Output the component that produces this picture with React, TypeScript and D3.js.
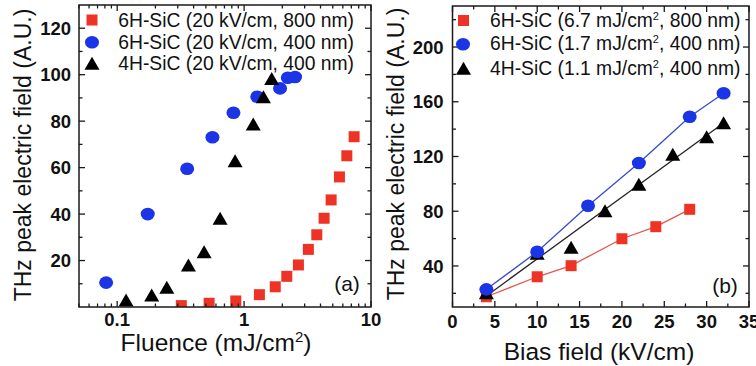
import React from "react";
import * as d3 from "d3";

// ---- Panel (a): THz field vs. pump fluence (log x) ----
const fluence800_6H = [0.32, 0.53, 0.86, 1.32, 1.76, 2.17, 2.68, 3.21, 3.74, 4.27, 4.85, 5.64, 6.45, 7.36];
const field800_6H = [0.6, 1.6, 2.6, 5.3, 8.7, 13.2, 18.1, 24.8, 31.1, 38.2, 46.1, 56.0, 65.1, 73.3];
const fluence400_6H = [0.0818, 0.174, 0.356, 0.563, 0.824, 1.27, 1.92, 2.21, 2.52];
const field400_6H = [10.5, 40.0, 59.5, 73.1, 83.6, 90.5, 94.1, 98.7, 99.0];
const fluence400_4H = [0.1175, 0.187, 0.246, 0.364, 0.484, 0.647, 0.849, 1.18, 1.42, 1.65];
const field400_4H = [3.0, 5.2, 8.5, 18.1, 23.8, 38.2, 63.0, 78.8, 90.5, 98.4];

const legendA = ["6H-SiC (20 kV/cm, 800 nm)", "6H-SiC (20 kV/cm, 400 nm)", "4H-SiC (20 kV/cm, 400 nm)"];
const xTicksA = [0.1, 1, 10];
const yTicksA = [20, 40, 60, 80, 100, 120];

// ---- Panel (b): THz field vs. bias field ----
const bias800_6H = [4, 10, 14, 20, 24, 28];
const fieldB800_6H = [17.5, 32.1, 40.2, 59.9, 68.7, 81.4];
const bias400_6H = [4, 10, 16, 22, 28, 32];
const fieldB400_6H = [22.9, 50.4, 84.0, 115.3, 149.1, 166.2];
const bias400_4H = [4, 10, 14, 18, 22, 26, 30, 32];
const fieldB400_4H = [20.5, 49.3, 53.6, 80.4, 99.7, 121.6, 134.5, 144.7];

const legendB = [
  ["6H-SiC (6.7 mJ/cm", ", 800 nm)"],
  ["6H-SiC (1.7 mJ/cm", ", 400 nm)"],
  ["4H-SiC (1.1 mJ/cm", ", 400 nm)"],
];
const xTicksB = [0, 5, 10, 15, 20, 25, 30, 35];
const yTicksB = [40, 80, 120, 160, 200];

const RED = "#ee3326";
const BLUE = "#1b34e6";
const BLACK = "#000";
const FRAME = "#1a1a1a";
const FONT = "'Liberation Sans', Arial, Helvetica, sans-serif";

type Pt = [number, number];
const zip = (xs: number[], ys: number[]): Pt[] => xs.map((x, i) => [x, ys[i]]);

function Square({ x, y, s = 11 }: { x: number; y: number; s?: number }) {
  return <rect x={x - s / 2} y={y - s / 2} width={s} height={s} fill={RED} />;
}
function Dot({ x, y }: { x: number; y: number }) {
  return <ellipse cx={x} cy={y} rx={7} ry={6.3} fill={BLUE} />;
}
function Tri({ x, y }: { x: number; y: number }) {
  const w = 15, h = 13;
  return <path d={`M${x},${y - h / 2}L${x + w / 2},${y + h / 2}L${x - w / 2},${y + h / 2}Z`} fill={BLACK} />;
}

function Frame({ l, r, t, b }: { l: number; r: number; t: number; b: number }) {
  return <rect x={l} y={t} width={r - l} height={b - t} fill="none" stroke={FRAME} strokeWidth={1.5} />;
}

export default function App() {
  // Panel (a) geometry
  const A = { l: 79, r: 371, t: 5, b: 307 };
  const xA = d3.scaleLog().domain([0.05, 10]).range([A.l, A.r]);
  const yA = d3.scaleLinear().domain([0, 130]).range([A.b, A.t]);

  // Panel (b) geometry
  const B = { l: 452.5, r: 749, t: 6, b: 307 };
  const xB = d3.scaleLinear().domain([0, 35]).range([B.l, B.r]);
  const yB = d3.scaleLinear().domain([10, 230]).range([B.b, B.t]);

  const minorLogA: number[] = [];
  [0.01, 0.1, 1].forEach((dec) => {
    for (let k = 2; k <= 9; k++) {
      const v = dec * k;
      if (v >= 0.05 && v <= 10) minorLogA.push(v);
    }
  });
  const yMinorA = d3.range(10, 130, 20);
  const xMinorB = d3.range(2.5, 35, 5);
  const yMinorB = d3.range(20, 230, 40);

  const MAJ = 6, MIN = 3.5;

  // Black series in (b): least-squares fit line
  const mx = d3.mean(bias400_4H)!;
  const my = d3.mean(fieldB400_4H)!;
  const sxy = d3.sum(bias400_4H, (x, i) => (x - mx) * (fieldB400_4H[i] - my));
  const sxx = d3.sum(bias400_4H, (x) => (x - mx) ** 2);
  const slope = sxy / sxx;
  const icpt = my - slope * mx;
  const fitX = [d3.min(bias400_4H)!, d3.max(bias400_4H)!];
  const fitPts: Pt[] = fitX.map((x) => [x, icpt + slope * x]);

  const lineB = d3.line<Pt>().x((d) => xB(d[0])).y((d) => yB(d[1]));

  const tickLines = (
    vals: number[],
    pos: (v: number) => number,
    len: number,
    orient: "x" | "y",
    box: { l: number; r: number; t: number; b: number },
    keyp: string
  ) =>
    vals.map((v, i) => {
      const p = pos(v);
      if (orient === "x") {
        return (
          <g key={`${keyp}${i}`}>
            <line x1={p} x2={p} y1={box.b} y2={box.b - len} stroke={FRAME} strokeWidth={1.3} />
            <line x1={p} x2={p} y1={box.t} y2={box.t + len} stroke={FRAME} strokeWidth={1.3} />
          </g>
        );
      }
      return (
        <g key={`${keyp}${i}`}>
          <line y1={p} y2={p} x1={box.l} x2={box.l + len} stroke={FRAME} strokeWidth={1.3} />
          <line y1={p} y2={p} x1={box.r} x2={box.r - len} stroke={FRAME} strokeWidth={1.3} />
        </g>
      );
    });

  const tickFont = { fontFamily: FONT, fontWeight: 700, fontSize: 18.5, fill: "#111" } as const;
  const titleFont = { fontFamily: FONT, fontSize: 23, fill: "#111" } as const;
  const legFont = { fontFamily: FONT, fontSize: 19.3, fill: "#111" } as const;

  return (
    <svg width={756} height={366} style={{ position: "absolute", left: 0, top: 0, background: "#fff" }}>
      <defs>
        <clipPath id="clipA">
          <rect x={A.l} y={A.t} width={A.r - A.l} height={A.b - A.t} />
        </clipPath>
        <clipPath id="clipB">
          <rect x={B.l} y={B.t} width={B.r - B.l} height={B.b - B.t} />
        </clipPath>
      </defs>

      {/* ===== Panel (a) ===== */}
      <g clipPath="url(#clipA)">
        {zip(fluence800_6H, field800_6H).map(([x, y], i) => (
          <Square key={`ar${i}`} x={xA(x)} y={yA(y)} />
        ))}
        {zip(fluence400_6H, field400_6H).map(([x, y], i) => (
          <Dot key={`ab${i}`} x={xA(x)} y={yA(y)} />
        ))}
        {zip(fluence400_4H, field400_4H).map(([x, y], i) => (
          <Tri key={`at${i}`} x={xA(x)} y={yA(y)} />
        ))}
      </g>
      <Frame {...A} />
      {tickLines(xTicksA, xA, MAJ, "x", A, "axM")}
      {tickLines(minorLogA, xA, MIN, "x", A, "axm")}
      {tickLines(yTicksA, yA, MAJ, "y", A, "ayM")}
      {tickLines(yMinorA, yA, MIN, "y", A, "aym")}
      {xTicksA.map((v) => (
        <text key={`axl${v}`} x={xA(v)} y={326} textAnchor="middle" {...tickFont}>
          {v}
        </text>
      ))}
      {yTicksA.map((v) => (
        <text key={`ayl${v}`} x={A.l - 8} y={yA(v)} dy="0.36em" textAnchor="end" {...tickFont}>
          {v}
        </text>
      ))}
      <text x={216} y={351} textAnchor="middle" {...titleFont} fontSize={24.5}>
        Fluence (mJ/cm<tspan dy={-9} fontSize={15}>2</tspan>
        <tspan dy={9}>)</tspan>
      </text>
      <text transform="translate(31,155) rotate(-90)" textAnchor="middle" {...titleFont}>
        THz peak electric field (A.U.)
      </text>
      <text x={347} y={283} dy="0.36em" textAnchor="middle" {...titleFont} fontSize={21}>
        (a)
      </text>
      {/* legend (a) */}
      <Square x={92} y={20} />
      <Dot x={92} y={42.3} />
      <Tri x={92} y={63.3} />
      {legendA.map((t, i) => (
        <text key={`la${i}`} x={118.3} y={[20, 42.3, 63.3][i]} dy="0.36em" {...legFont}>
          {t}
        </text>
      ))}

      {/* ===== Panel (b) ===== */}
      <g clipPath="url(#clipB)">
        <path d={lineB(zip(bias800_6H, fieldB800_6H))!} fill="none" stroke="#e8574e" strokeWidth={1.3} />
        <path d={lineB(zip(bias400_6H, fieldB400_6H))!} fill="none" stroke="#3a4cc8" strokeWidth={1.3} />
        <path d={lineB(fitPts)!} fill="none" stroke="#222" strokeWidth={1.3} />
        {zip(bias800_6H, fieldB800_6H).map(([x, y], i) => (
          <Square key={`br${i}`} x={xB(x)} y={yB(y)} />
        ))}
        {zip(bias400_4H, fieldB400_4H).map(([x, y], i) => (
          <Tri key={`bt${i}`} x={xB(x)} y={yB(y)} />
        ))}
        {zip(bias400_6H, fieldB400_6H).map(([x, y], i) => (
          <Dot key={`bb${i}`} x={xB(x)} y={yB(y)} />
        ))}
      </g>
      <Frame {...B} />
      {tickLines(xTicksB, xB, MAJ, "x", B, "bxM")}
      {tickLines(xMinorB, xB, MIN, "x", B, "bxm")}
      {tickLines(yTicksB, yB, MAJ, "y", B, "byM")}
      {tickLines(yMinorB, yB, MIN, "y", B, "bym")}
      {xTicksB.map((v) => (
        <text key={`bxl${v}`} x={xB(v)} y={328} textAnchor="middle" {...tickFont}>
          {v}
        </text>
      ))}
      {yTicksB.map((v) => (
        <text key={`byl${v}`} x={B.l - 9} y={yB(v)} dy="0.36em" textAnchor="end" {...tickFont}>
          {v}
        </text>
      ))}
      <text x={599} y={360} textAnchor="middle" {...titleFont} fontSize={24.5}>
        Bias field (kV/cm)
      </text>
      <text transform="translate(404,154) rotate(-90)" textAnchor="middle" {...titleFont}>
        THz peak electric field (A.U.)
      </text>
      <text x={725} y={285} dy="0.36em" textAnchor="middle" {...titleFont} fontSize={21}>
        (b)
      </text>
      {/* legend (b) */}
      <Square x={463.5} y={20.5} />
      <Dot x={463} y={44.3} />
      <Tri x={463.5} y={68.3} />
      {legendB.map(([a, b], i) => (
        <text key={`lb${i}`} x={490} y={[20, 43.5, 68.5][i]} dy="0.36em" {...legFont}>
          {a}
          <tspan dy={-7} fontSize={11}>2</tspan>
          <tspan dy={7}>{b}</tspan>
        </text>
      ))}
    </svg>
  );
}
